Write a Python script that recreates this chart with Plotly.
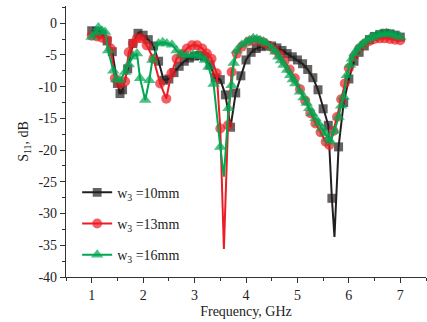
import plotly.graph_objects as go

# ---- data ----
f_black = [1.0, 1.1, 1.2, 1.3, 1.4, 1.5, 1.55, 1.6, 1.7, 1.8, 1.9, 2.0, 2.1, 2.2, 2.3, 2.4, 2.5,
           2.6, 2.7, 2.8, 2.9, 3.0, 3.1, 3.2, 3.3, 3.4, 3.5, 3.6, 3.7, 3.8, 3.9, 4.0, 4.1, 4.2,
           4.3, 4.4, 4.5, 4.6, 4.7, 4.8, 4.9, 5.0, 5.1, 5.2, 5.3, 5.4, 5.5, 5.6, 5.67, 5.72,
           5.8, 5.9, 6.0, 6.1, 6.2, 6.3, 6.4, 6.5, 6.6, 6.7, 6.8, 6.9, 7.0]
s_black = [-1.2, -1.3, -1.8, -2.8, -4.5, -9.5, -11.1, -10.5, -7.2, -3.2, -1.6, -1.9, -2.6, -3.6,
           -6.0, -9.0, -8.8, -7.8, -6.8, -6.0, -5.5, -5.2, -5.1, -5.3, -6.6, -8.6, -8.9, -11.3,
           -16.4, -11.0, -8.3, -5.8, -4.6, -4.0, -3.7, -3.5, -3.6, -3.9, -4.3, -4.8, -5.3, -5.8,
           -6.4, -7.3, -8.6, -10.5, -13.5, -16.1, -27.6, -33.7, -19.5, -12.5, -8.8, -6.0, -4.6,
           -3.6, -2.6, -2.1, -1.8, -1.6, -1.7, -1.9, -2.2]

f_red = [1.0, 1.1, 1.2, 1.3, 1.37, 1.45, 1.55, 1.65, 1.72, 1.8, 1.88, 1.97, 2.07, 2.2, 2.33,
         2.45, 2.55, 2.65, 2.75, 2.85, 2.95, 3.05, 3.15, 3.24, 3.33, 3.43, 3.5, 3.57, 3.65,
         3.72, 3.82, 3.92, 4.05, 4.15, 4.25, 4.35, 4.45, 4.55, 4.65, 4.75, 4.85, 4.95, 5.05,
         5.15, 5.25, 5.35, 5.45, 5.55, 5.62, 5.7, 5.77, 5.85, 5.92, 6.0, 6.1, 6.2, 6.3, 6.4,
         6.5, 6.6, 6.7, 6.8, 6.9, 7.0]
s_red = [-2.0, -2.1, -2.3, -2.6, -4.0, -8.7, -9.6, -9.2, -4.6, -3.2, -2.4, -2.4, -3.5, -5.6,
         -9.5, -11.9, -7.9, -5.6, -4.9, -4.0, -3.5, -3.5, -4.0, -4.8, -5.6, -7.9, -16.6, -35.6,
         -16.1, -7.7, -4.8, -3.7, -2.9, -2.7, -2.8, -3.1, -3.6, -4.2, -5.0, -6.0, -7.3, -8.7,
         -10.4, -12.2, -14.2, -15.8, -17.2, -18.7, -19.2, -17.0, -14.8, -12.0, -9.5, -7.1,
         -5.3, -4.0, -3.3, -2.8, -2.5, -2.4, -2.4, -2.5, -2.6, -2.7]

f_green = [1.0, 1.07, 1.13, 1.2, 1.26, 1.32, 1.42, 1.48, 1.55, 1.65, 1.72, 1.8, 1.88, 1.94, 2.04,
           2.12, 2.18, 2.3, 2.38, 2.46, 2.56, 2.65, 2.75, 2.85, 2.97, 3.05, 3.12, 3.2, 3.27,
           3.37, 3.5, 3.57, 3.66, 3.72, 3.76, 3.82, 3.92, 4.0, 4.07, 4.14, 4.21, 4.27, 4.34,
           4.4, 4.5, 4.57, 4.63, 4.68, 4.73, 4.8, 4.86, 4.91, 4.96, 5.05, 5.12, 5.18, 5.23,
           5.28, 5.35, 5.41, 5.48, 5.54, 5.6, 5.64, 5.72, 5.8, 5.85, 5.9, 5.96, 6.02, 6.06,
           6.11, 6.16, 6.22, 6.28, 6.35, 6.41, 6.47, 6.54, 6.6, 6.67, 6.73, 6.8, 6.86, 6.93, 7.0]
s_green = [-2.2, -1.5, -0.7, -1.2, -1.4, -4.3, -7.5, -8.9, -9.0, -7.7, -6.5, -5.3, -4.8, -8.7,
           -12.1, -9.0, -5.8, -3.2, -3.0, -3.2, -3.4, -4.3, -4.9, -5.1, -5.0, -5.0, -5.2, -5.8,
           -6.9, -9.6, -19.5, -24.2, -13.4, -9.8, -6.3, -4.3, -3.4, -3.0, -2.7, -2.4, -2.5,
           -2.7, -2.9, -3.2, -3.9, -4.5, -5.3, -5.9, -6.6, -7.4, -8.2, -8.9, -9.5, -10.8, -11.7,
           -12.6, -13.4, -14.2, -15.0, -15.8, -16.6, -17.4, -18.2, -18.7, -17.0, -14.8, -13.0,
           -11.6, -8.2, -6.6, -5.6, -4.8, -4.2, -3.6, -3.2, -2.7, -2.4, -2.2, -1.9, -1.8, -1.7,
           -1.6, -1.7, -1.8, -2.0, -2.2]

# frequencies of the narrow spike minima drawn without a marker
spike_f = {"black": 5.72, "red": 3.57, "green": 3.57}

names = ["w<sub>3</sub> =10mm", "w<sub>3</sub> =13mm", "w<sub>3</sub> =16mm"]
colors = ["#231F20", "#ED1C24", "#00A651"]
symbols = ["square", "circle", "triangle-up"]
msizes = [9, 10, 11]

xticks = [1, 2, 3, 4, 5, 6, 7]
yticks = [0, -5, -10, -15, -20, -25, -30, -35, -40]

FONT = "Liberation Serif"

fig = go.Figure()
series = [(f_black, s_black, "black"), (f_red, s_red, "red"), (f_green, s_green, "green")]
for i, (fx, sy, key) in enumerate(series):
    sizes = [0 if abs(v - spike_f[key]) < 1e-9 else msizes[i] for v in fx]
    fig.add_trace(go.Scatter(
        x=fx, y=sy, mode="lines+markers", name=names[i],
        legendgroup=key,
        line=dict(color=colors[i], width=2),
        marker=dict(symbol=symbols[i], size=sizes, color=colors[i], line=dict(width=0)),
    ))

axis_common = dict(
    showline=True, linecolor="#333333", linewidth=1.3, mirror=False,
    showgrid=False, zeroline=False, ticks="outside", ticklen=5, tickwidth=1.2,
    tickcolor="#333333", tickfont=dict(family=FONT, size=14, color="#222222"),
)

fig.update_xaxes(
    range=[0.5, 7.5], tickvals=xticks, ticktext=[str(v) for v in xticks],
    minor=dict(dtick=0.5, ticks="outside", ticklen=3, tickcolor="#333333", tickwidth=1),
    title=dict(text="Frequency, GHz", font=dict(family=FONT, size=14, color="#222222"), standoff=4),
    **axis_common,
)
fig.update_yaxes(
    range=[-40, 2.7], tickvals=yticks, ticktext=[str(v) for v in yticks],
    minor=dict(dtick=2.5, ticks="outside", ticklen=3, tickcolor="#333333", tickwidth=1),
    title=dict(text="S<sub>11</sub>, dB", font=dict(family=FONT, size=14, color="#222222"), standoff=6),
    **axis_common,
)

fig.update_layout(
    width=427, height=322,
    margin=dict(l=66, r=1, t=6, b=45),
    paper_bgcolor="white", plot_bgcolor="white",
    showlegend=True,
    legend=dict(
        x=0.031, y=0.37, xanchor="left", yanchor="top",
        bgcolor="rgba(0,0,0,0)", itemwidth=30, tracegroupgap=10,
        font=dict(family=FONT, size=14, color="#222222"),
    ),
)

fig.write_html("out.html")
